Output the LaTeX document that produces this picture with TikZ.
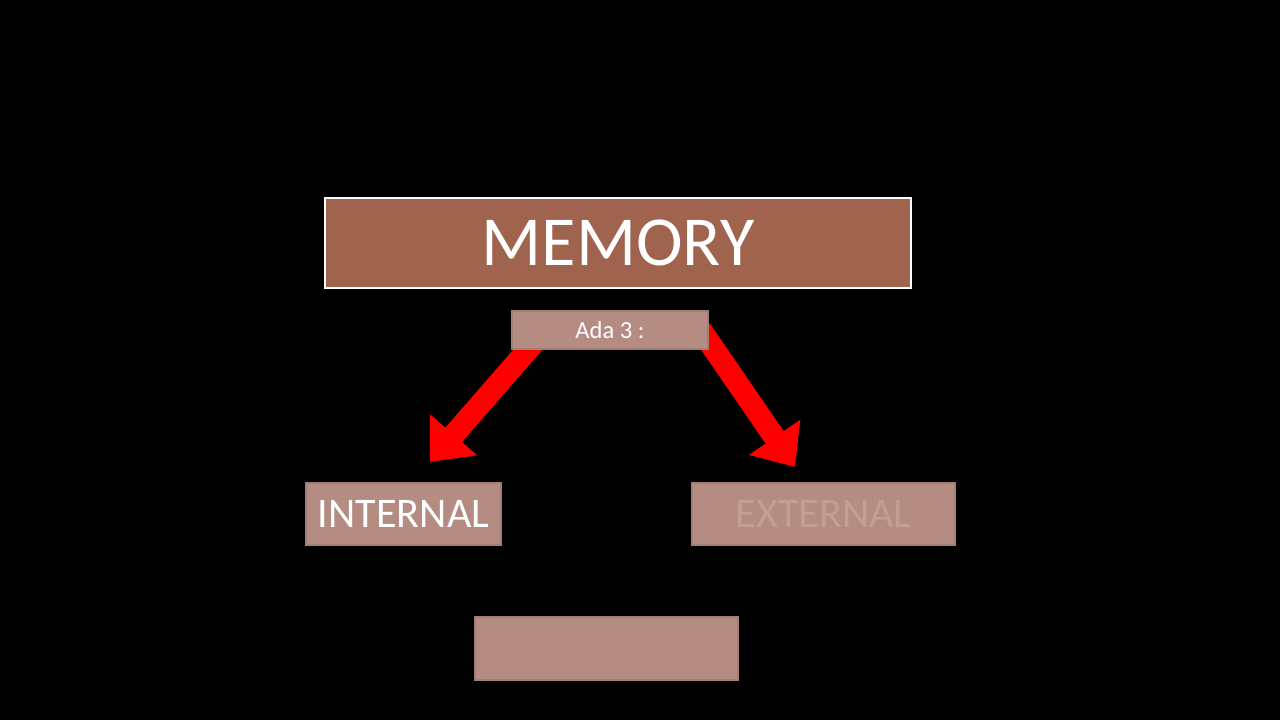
\documentclass[tikz,border=0pt]{standalone}
\usepackage{fontspec}
\setmainfont{Carlito}
\usepackage{tikz}
\usetikzlibrary{arrows.meta, positioning, calc, backgrounds}
\definecolor{MemBrown}{RGB}{160, 99, 77}
\definecolor{BoxRose}{RGB}{180, 140, 130}
\definecolor{FadedText}{RGB}{194, 158, 149}
\definecolor{ArrowRed}{RGB}{255, 0, 0}

\tikzset{
  rosebox/.style={fill=BoxRose, draw=BoxRose!90!black, line width=0.3pt,
    inner sep=0pt, text=white},
  redarrow/.style={draw=ArrowRed, line width=2.2mm,
    -{Triangle[width=6mm, length=3.6mm]}}
}

\begin{document}
\begin{tikzpicture}
  \useasboundingbox (0,0) rectangle (12.8,7.2);

  % title bar
  \node[fill=MemBrown, draw=white, line width=0.8pt, minimum width=5.86cm,
    minimum height=0.9cm, text=white, font=\fontsize{20}{24}\selectfont]
    (memory) at (6.18,4.77) {MEMORY};
  \node[rosebox, minimum width=1.96cm, minimum height=0.38cm,
    font=\fontsize{7}{8}\selectfont] (ada) at (6.10,3.90) {Ada 3 :};

  % branches
  \node[rosebox, minimum width=1.95cm, minimum height=0.62cm,
    font=\fontsize{12}{14}\selectfont] (internal) at (4.035,2.06) {INTERNAL};
  \node[rosebox, minimum width=2.63cm, minimum height=0.62cm, text=FadedText,
    font=\fontsize{12}{14}\selectfont] (external) at (8.235,2.06) {EXTERNAL};
  \node[rosebox, minimum width=2.63cm, minimum height=0.63cm] (third) at (6.065,0.715) {};

  \coordinate (ltip) at (4.30,2.58);
  \coordinate (rtip) at (7.95,2.53);
  \begin{pgfonlayer}{background}
    \fill[black] (0,0) rectangle (12.8,7.2);
    \draw[redarrow] ($(ada.south west)+(0.27,0.12)$) -- (ltip);
    \draw[redarrow] ($(ada.south east)+(-0.08,0.2)$) -- (rtip);
  \end{pgfonlayer}
\end{tikzpicture}
\end{document}
